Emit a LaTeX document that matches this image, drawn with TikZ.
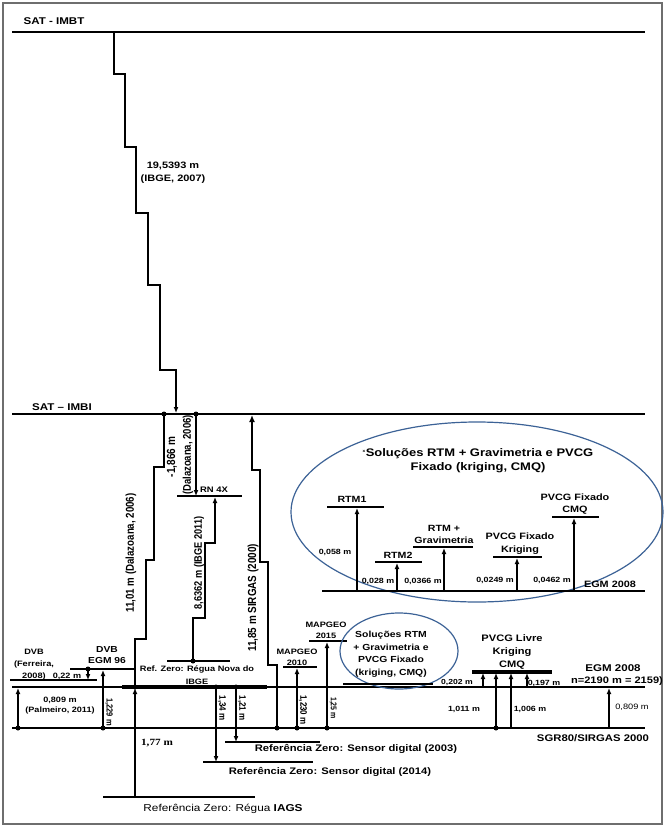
\documentclass[tikz,border=0pt]{standalone}
\usepackage{fontspec}
\setmainfont{Liberation Sans}[FakeStretch=1.18]
\newfontfamily\uprightfont{Liberation Sans}
\newfontfamily\seriffont{Liberation Serif}[FakeStretch=1.18]
\usetikzlibrary{arrows.meta}
\definecolor{ovalblue}{RGB}{60,98,150}
\definecolor{framegray}{RGB}{110,110,110}

\begin{document}
\begin{tikzpicture}[
  x=1pt,y=-1pt,
  every node/.style={inner sep=0pt,align=center,text=black},
  levelline/.style={line width=2.3pt},
  stair/.style={line width=1.8pt,line join=miter},
  arrow/.style={line width=1.8pt,-{Latex[length=6pt,width=5pt]}},
  dotmark/.style={circle,fill=black,inner sep=0pt,minimum size=5pt},
  oval/.style={draw=ovalblue,line width=1.2pt},
  fs/.style 2 args={font=\fontsize{#1}{#2}\selectfont\bfseries},
  vfs/.style={rotate=90,yscale=1.18,font=\uprightfont\fontsize{#1}{#1}\selectfont\bfseries},
  vfsdown/.style={rotate=-90,yscale=1.18,font=\uprightfont\fontsize{#1}{#1}\selectfont\bfseries}
]
\path[use as bounding box] (0,0) rectangle (666,828);
\draw[framegray,line width=1.2pt] (3,3) rectangle (662,824);

% satellite levels
\draw[levelline] (12,32) -- (645,32);
\node[fs={9.8}{11}] (imbt) at (54,21) {SAT - IMBT};
\draw[levelline] (12,414) -- (645,414);
\node[fs={9.8}{11}] (imbi) at (62,407) {SAT – IMBI};

\draw[stair,-{Latex[length=6pt,width=5pt]}] (114,32) -- (114,74) -- (125,74) -- (125,147) -- (136,147) -- (136,213)
  -- (148,213) -- (148,285) -- (160,285) -- (160,370) -- (176,370) -- (176,413);
\node[fs={9.3}{13}] (imbtval) at (173,173) {19,5393 m\\(IBGE, 2007)};

% Dalazoana 2006: Regua Nova up to IMBI
\node[dotmark] (nova) at (135,687) {};
\node[dotmark] (top1101) at (164,414) {};
\draw[stair] (nova.center) -- (135,639) -- (146,639) -- (146,560) -- (154,560) -- (154,467) -- (164,467) -- (top1101.center);
\node[vfs=9.7] (l1101) at (131,553) {11,01 m (Dalazoana, 2006)};

\node[dotmark] (top1866) at (196,414) {};
\draw[arrow] (top1866.center) -- (196,496);
\draw[levelline] (177,496) -- (242,496);
\node[fs={8}{9}] (rn4x) at (214,490) {RN 4X};
\node[vfs=10] (l1866a) at (172,457) {-1,866 m};
\node[vfs=9.5] (l1866b) at (188,455) {(Dalazoana, 2006)};

% IBGE 2011
\draw[levelline] (167,661) -- (230,661);
\node[dotmark] (nova2) at (193,661) {};
\draw[stair,-{Latex[length=6pt,width=5pt]}] (nova2.center) -- (193,618) -- (205,618) -- (205,543) -- (215,543) -- (215,497);
\node[vfs=9.2] (l8636) at (199,563) {8,6362 m (IBGE 2011)};
\node[fs={7.8}{12.5}] (novalab) at (197,675) {Ref. Zero: Régua Nova do\\IBGE};

% SIRGAS 2000
\node[dotmark] (sgr1185) at (277,728) {};
\draw[stair,line width=2.4pt,-{Latex[length=7pt,width=6pt]}] (sgr1185.center) -- (277,665) -- (268,665) -- (268,562)
  -- (260,562) -- (260,470) -- (252,470) -- (252,415);
\node[vfs=9.9] (l1185) at (253,598) {11,85 m SIRGAS (2000)};

% reference lines
\draw[levelline] (12,687) -- (645,687);
\draw[line width=3.2pt] (122,687) -- (267,687);
\draw[levelline] (12,728) -- (645,728);
\node[fs={9.6}{11}] (sgr) at (593,738) {SGR80/SIRGAS 2000};

% DVB, left side
\draw[levelline] (10,680) -- (97,680);
\node[fs={7.8}{12}] (dvbf) at (34,665) {DVB\\(Ferreira,\\2008)};
\draw[levelline] (70,669) -- (134,669);
\node[fs={8.7}{10.5}] (dvbe) at (107,655) {DVB\\EGM 96};
\node[dotmark] (d022) at (88,669) {};
\draw[arrow] (d022.center) -- (88,680);
\node[fs={7.7}{9}] (l022) at (67,676) {0,22 m};
\node[dotmark] (d1229) at (103,728) {};
\draw[arrow] (d1229.center) -- (103,670);
\node[vfsdown=7.5] (l1229) at (109,712) {1,229 m};
\node[dotmark] (d0809) at (18,728) {};
\draw[arrow] (d0809.center) -- (18,688);
\node[fs={7.7}{10}] (l0809) at (60,706) {0,809 m\\(Palmeiro, 2011)};

% IAGS and sensors
\draw[levelline] (103,797) -- (255,797);
\draw[arrow] (135,797) -- (135,688);
\node[font=\seriffont\fontsize{9.5}{11}\selectfont\bfseries] (l177) at (157,743) {1,77 m};
\node[font=\fontsize{10}{12}\selectfont] (iags) at (223,809) {Referência Zero: Régua \textbf{IAGS}};

\node[dotmark] (d134) at (216,687) {};
\draw[arrow] (d134.center) -- (216,762);
\draw[levelline] (203,762) -- (313,762);
\node[vfsdown=8] (l134) at (222,708) {1,34 m};
\node[fs={9.5}{11}] (s2014) at (330,772) {Referência Zero: Sensor digital (2014)};
\node[dotmark] (d121) at (236,687) {};
\draw[arrow] (d121.center) -- (236,742);
\draw[levelline] (225,742) -- (320,742);
\node[vfsdown=8] (l121) at (242,708) {1,21 m};
\node[fs={9.5}{11}] (s2003) at (356,749) {Referência Zero: Sensor digital (2003)};

% MAPGEO
\node[dotmark] (d2010) at (297,728) {};
\draw[arrow] (d2010.center) -- (297,668);
\draw[levelline] (283,667) -- (317,667);
\node[fs={7.8}{11}] (m2010) at (297,657) {MAPGEO\\2010};
\node[vfsdown=8] (l1230) at (303,710) {1,230 m};
\node[dotmark] (d2015) at (327,728) {};
\draw[arrow] (d2015.center) -- (327,642);
\draw[levelline] (309,641) -- (347,641);
\node[fs={7.8}{11}] (m2015) at (326,630) {MAPGEO\\2015};
\node[vfsdown=7] (l125) at (333,708) {1,25 m};

% small oval and PVCG livre
\draw[oval] (399,651) ellipse [x radius=59, y radius=38];
\node[fs={8.8}{12.5}] (solsm) at (391,654) {Soluções RTM\\+ Gravimetria e\\PVCG Fixado\\(kriging, CMQ)};
\draw[line width=2.6pt] (343,684) -- (433,684);
\draw[line width=3.2pt] (472,672) -- (552,672);
\node[fs={9.4}{13}] (livre) at (512,652) {PVCG Livre\\Kriging\\CMQ};
\draw[arrow] (483,687) -- (483,673);
\node[dotmark] (d1011) at (496,728) {};
\draw[arrow] (d1011.center) -- (496,673);
\draw[arrow] (511,728) -- (511,673);
\draw[arrow] (527,687) -- (527,673);
\node[fs={7.3}{9}] (l0202) at (457,683) {0,202 m};
\node[fs={7.5}{9}] (l1011) at (464,709) {1,011 m};
\node[fs={7.5}{9}] (l1006) at (530,709) {1,006 m};
\node[fs={7.5}{9}] (l0197) at (544,683) {0,197 m};

% EGM 2008, right side
\node[fs={9.8}{11}] (egmr) at (613,668) {EGM 2008};
\node[fs={9.4}{11}] (egmn) at (617,681) {n=2190 m = 2159)};
\draw[arrow] (609,728) -- (609,688);
\node[font=\fontsize{7.8}{9}\selectfont] (l0809r) at (632,707) {0,809 m};

% big oval: RTM and PVCG fixado solutions over EGM 2008
\draw[oval] (477,512) ellipse [x radius=186, y radius=90];
\node[fs={11}{14}] (solbig) at (478,461) {\textsuperscript{\fontsize{4}{4}\selectfont x}Soluções RTM + Gravimetria e PVCG\\Fixado (kriging, CMQ)};
\draw[levelline] (322,591) -- (645,591);
\node[fs={9.2}{11}] (egmin) at (610,584) {EGM 2008};

\draw[levelline] (327,507) -- (384,507);
\node[fs={9}{11}] (rtm1) at (352,499) {RTM1};
\draw[arrow] (357,591) -- (357,508);
\node[fs={7.5}{9}] (l058) at (335,552) {0,058 m};

\draw[levelline] (375,562) -- (422,562);
\node[fs={9}{11}] (rtm2) at (398,555) {RTM2};
\draw[arrow] (397,591) -- (397,563);
\node[fs={7.5}{9}] (l028) at (378,581) {0,028 m};

\draw[levelline] (413,547) -- (473,547);
\node[fs={9}{12}] (rtmgrav) at (444,534) {RTM +\\Gravimetria};
\draw[arrow] (444,591) -- (444,548);
\node[fs={7.5}{9}] (l0366) at (423,581) {0,0366 m};

\draw[levelline] (493,557) -- (542,557);
\node[fs={9.2}{13}] (pvcgk) at (520,544) {PVCG Fixado\\Kriging};
\draw[arrow] (517,591) -- (517,558);
\node[fs={7.5}{9}] (l0249) at (495,580) {0,0249 m};

\draw[levelline] (552,517) -- (599,517);
\node[fs={9.2}{12}] (pvcgc) at (575,504) {PVCG Fixado\\CMQ};
\draw[arrow] (574,591) -- (574,518);
\node[fs={7.5}{9}] (l0462) at (552,580) {0,0462 m};
\end{tikzpicture}
\end{document}
